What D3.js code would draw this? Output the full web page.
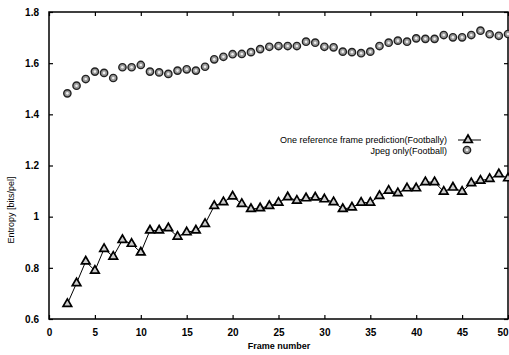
<!DOCTYPE html>
<html><head><meta charset="utf-8">
<script src="https://cdn.jsdelivr.net/npm/d3@7/dist/d3.min.js"></script>
<style>body{margin:0;background:#fff}svg{display:block}text{font-family:"Liberation Sans",Arial,sans-serif}</style>
</head><body><svg id="c" width="509" height="355"></svg>
<script>
const frames = d3.range(2, 51);
const oneRef = [0.659,0.740,0.825,0.789,0.874,0.844,0.909,0.894,0.860,0.946,0.946,0.955,0.922,0.939,0.946,0.972,1.042,1.057,1.079,1.050,1.030,1.033,1.042,1.055,1.076,1.063,1.072,1.075,1.068,1.057,1.030,1.036,1.055,1.055,1.081,1.102,1.092,1.111,1.111,1.135,1.135,1.098,1.114,1.098,1.131,1.141,1.148,1.166,1.150];
const jpeg = [1.482,1.512,1.538,1.567,1.562,1.542,1.584,1.584,1.593,1.567,1.564,1.558,1.571,1.576,1.571,1.586,1.615,1.625,1.635,1.636,1.643,1.655,1.664,1.667,1.667,1.667,1.684,1.680,1.664,1.662,1.645,1.643,1.639,1.645,1.667,1.680,1.688,1.684,1.697,1.695,1.695,1.710,1.701,1.701,1.710,1.727,1.713,1.707,1.714];
const xTicks = [0,5,10,15,20,25,30,35,40,45,50];
const yTicks = [0.6,0.8,1,1.2,1.4,1.6,1.8];
const yTickLabels = ["0.6","0.8","1","1.2","1.4","1.6","1.8"];
const seriesNames = ["One reference frame prediction(Footbally)","Jpeg only(Football)"];
const xTitle = "Frame number", yTitle = "Entropy [bits/pel]";

const svg = d3.select("#c");
const L=49, R=508, T=12, B=319;
const x = d3.scaleLinear().domain([0,50]).range([L,R]);
const y = d3.scaleLinear().domain([0.6,1.8]).range([B,T]);

svg.append("rect").attr("x",L).attr("y",T).attr("width",R-L).attr("height",B-T)
  .attr("fill","none").attr("stroke","#000").attr("stroke-width",1.5);

const fmt = d => yTickLabels[yTicks.indexOf(d)];
const gx = svg.append("g").attr("transform",`translate(0,${B})`)
  .call(d3.axisBottom(x).tickValues(xTicks).tickSize(-4).tickPadding(10));
const gy = svg.append("g").attr("transform",`translate(${L},0)`)
  .call(d3.axisLeft(y).tickValues(yTicks).tickFormat(fmt).tickSize(-4).tickPadding(10));
svg.append("g").attr("transform",`translate(0,${T})`)
  .call(d3.axisTop(x).tickValues(xTicks).tickSize(-4).tickFormat(""));
svg.append("g").attr("transform",`translate(${R},0)`)
  .call(d3.axisRight(y).tickValues(yTicks).tickSize(-4).tickFormat(""));
svg.selectAll(".domain").remove();
svg.selectAll(".tick line").attr("stroke","#000").attr("stroke-width",1.2);
svg.selectAll(".tick text").attr("font-size",10).attr("font-weight","bold").attr("fill","#000");
// keep the last x label inside the window
gx.selectAll(".tick text").filter(d => d === 50).attr("text-anchor","end").attr("dx",0).attr("x",0);

svg.append("text").attr("x",279).attr("y",349).attr("text-anchor","middle")
  .attr("font-size",9).attr("font-weight","bold").text(xTitle);
svg.append("text").attr("transform","translate(14,210) rotate(-90)").attr("text-anchor","middle")
  .attr("font-size",9).text(yTitle);

const tri = d3.symbol().type(d3.symbolTriangle).size(32);
const circ = d3.symbol().type(d3.symbolCircle).size(42);

svg.append("path").datum(frames.map((f,i)=>[f,oneRef[i]]))
  .attr("fill","none").attr("stroke","#000").attr("stroke-width",1)
  .attr("d", d3.line().x(d=>x(d[0])).y(d=>y(d[1])));

function drawTri(g, cx, cy){
  g.append("path").attr("d",tri).attr("transform",`translate(${cx},${cy})`)
    .attr("fill","#ccc").attr("stroke","#000").attr("stroke-width",1.7);
}
function drawCirc(g, cx, cy){
  g.append("path").attr("d",circ).attr("transform",`translate(${cx},${cy})`)
    .attr("fill","#999").attr("stroke","#222").attr("stroke-width",1.4);
  g.append("circle").attr("cx",cx).attr("cy",cy).attr("r",1.3).attr("fill","#eee");
}
const gT = svg.append("g"), gC = svg.append("g");
frames.forEach((f,i)=>{ drawTri(gT, x(f), y(oneRef[i])); drawCirc(gC, x(f), y(jpeg[i])); });

svg.append("text").attr("x",447).attr("y",143).attr("text-anchor","end")
  .attr("font-size",9).text(seriesNames[0]);
svg.append("text").attr("x",447).attr("y",154).attr("text-anchor","end")
  .attr("font-size",9).text(seriesNames[1]);
svg.append("line").attr("x1",458).attr("x2",481).attr("y1",140).attr("y2",140)
  .attr("stroke","#000").attr("stroke-width",1);
drawTri(svg, 468, 140);
drawCirc(svg, 467, 150);
</script></body></html>
